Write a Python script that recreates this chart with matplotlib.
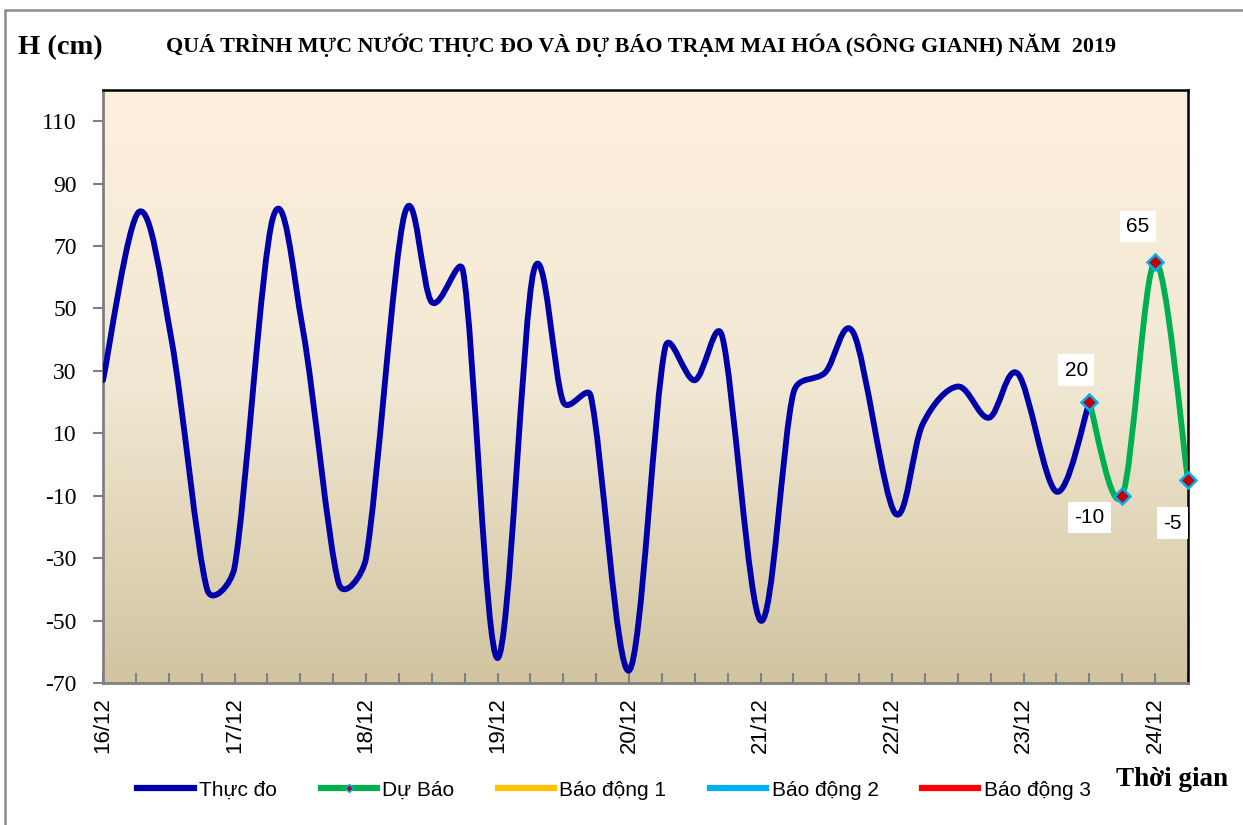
import numpy as np
import matplotlib
matplotlib.use("Agg")
import matplotlib.pyplot as plt
from matplotlib.path import Path
from matplotlib.patches import PathPatch, Rectangle
from matplotlib.lines import Line2D
from matplotlib.colors import LinearSegmentedColormap

# Số liệu thực đo: thời gian (giờ kể từ 00h 16/12) và mực nước (cm)
gio_thuc_do = [0, 6.6, 12.5, 19, 24, 31, 36.5, 43, 48, 55, 60, 65.7, 72, 78.6, 84, 89,
               96, 102.6, 108, 113, 120, 126, 131.8, 137, 144.5, 149.6, 156, 161.7,
               167, 174, 180]
h_thuc_do = [27, 81, 40, -40, -33, 79, 43, -38, -30, 80, 52, 62, -62, 62, 20, 22,
             -66, 37.5, 27, 41, -50, 23, 29.5, 42, -15.5, 13, 25, 15, 29, -8.7, 20]

# Dự báo
gio_du_bao = [180, 186, 192, 198]
h_du_bao = [20, -10, 65, -5]

ngay = ["16/12", "17/12", "18/12", "19/12", "20/12", "21/12", "22/12", "23/12", "24/12"]
y_ticks = [-70, -50, -30, -10, 10, 30, 50, 70, 90, 110]

XMAX, YMIN, YMAX = 198, -70, 120
# ti le pixel / don vi (de tinh duong cong tron giong Excel)
SX = 1085 / XMAX
SY = 593 / (YMAX - YMIN)


def duong_tron(x, y):
    # duong cong Bezier kieu "smoothed line" cua Excel (gioi han tiep tuyen <= 1/2 doan)
    pts = np.column_stack([np.array(x) * SX, np.array(y) * SY])
    n = len(pts)
    verts = [pts[0]]
    codes = [Path.MOVETO]
    for i in range(n - 1):
        p0 = pts[max(i - 1, 0)]
        p1 = pts[i]
        p2 = pts[i + 1]
        p3 = pts[min(i + 2, n - 1)]
        d12 = np.hypot(*(p2 - p1))
        t1 = (p2 - p0) / 6
        t2 = (p3 - p1) / 6
        if np.hypot(*t1) > d12 / 2:
            t1 = t1 * (d12 / 2) / np.hypot(*t1)
        if np.hypot(*t2) > d12 / 2:
            t2 = t2 * (d12 / 2) / np.hypot(*t2)
        verts += [p1 + t1, p2 - t2, p2]
        codes += [Path.CURVE4] * 3
    verts = np.array(verts) / [SX, SY]
    return Path(verts, codes)


fig = plt.figure(figsize=(12.43, 8.25), dpi=100)
ax = fig.add_axes([103 / 1243, 1 - 683 / 825, (1188 - 103) / 1243, (683 - 90) / 825])

# nen gradient
cmap = LinearSegmentedColormap.from_list("nen", [(0, "#D2C4A0"), (0.5, "#F1E8D3"), (1, "#FDF0DC")])
grad = np.linspace(0, 1, 256).reshape(-1, 1)
ax.imshow(grad, extent=[0, XMAX, YMIN, YMAX], origin="lower", aspect="auto", cmap=cmap, zorder=0)

ax.add_patch(PathPatch(duong_tron(gio_thuc_do, h_thuc_do), fill=False, edgecolor="#0000AA",
                       lw=4.2, capstyle="round", joinstyle="round", zorder=3))
ax.add_patch(PathPatch(duong_tron(gio_du_bao, h_du_bao), fill=False, edgecolor="#00B050",
                       lw=4.2, capstyle="round", joinstyle="round", zorder=4))
ax.plot(gio_du_bao, h_du_bao, ls="none", marker="D", ms=8, mfc="#C00000", mec="#00B0F0",
        mew=1.8, zorder=5, clip_on=False)

# nhan gia tri du bao
offsets = [(-13, 32), (-33, -22), (-17, 35), (-16, -43)]
for gx, hv, off in zip(gio_du_bao, h_du_bao, offsets):
    ax.annotate(f"{hv:g}", (gx, hv), xytext=off, textcoords="offset pixels",
                ha="center", va="center", fontsize=15, family="Liberation Sans",
                bbox=dict(boxstyle="square,pad=0.3", fc="white", ec="none"), zorder=6,
                annotation_clip=False)

ax.set_xlim(0, XMAX)
ax.set_ylim(YMIN, YMAX)
ax.set_xticks(np.arange(0, XMAX, 24))
ax.set_xticklabels(ngay, rotation=90, fontsize=16, family="Liberation Sans")
ax.set_xticks(np.arange(0, XMAX + 1, 6), minor=True)
ax.set_yticks(y_ticks)
ax.set_yticklabels([str(v) for v in y_ticks], fontsize=17, family="Liberation Serif")
ax.tick_params(axis="x", which="both", direction="in", length=7, color="#808080", width=1.5, pad=10)
ax.tick_params(axis="y", direction="out", length=7, color="#808080", width=1.5, pad=12)
for s in ["left", "bottom"]:
    ax.spines[s].set_color("#808080")
    ax.spines[s].set_linewidth(2)
for s in ["top", "right"]:
    ax.spines[s].set_color("black")
    ax.spines[s].set_linewidth(1.8)

fig.text(18 / 1243, 1 - 48 / 825, "H (cm)", fontsize=20.5, fontweight="bold",
         family="Liberation Serif", ha="left", va="center")
fig.text(641 / 1243, 1 - 45 / 825,
         "QUÁ TRÌNH MỰC NƯỚC THỰC ĐO VÀ DỰ BÁO TRẠM MAI HÓA (SÔNG GIANH) NĂM  2019",
         fontsize=15.8, fontweight="bold", family="Liberation Serif", ha="center", va="center")
fig.text(1228 / 1243, 1 - 780 / 825, "Thời gian", fontsize=19.5, fontweight="bold",
         family="Liberation Serif", ha="right", va="center")

handles = [
    Line2D([], [], color="#0000AA", lw=4.5),
    Line2D([], [], color="#00B050", lw=4.5, marker="D", ms=4, mfc="#C00000", mec="#00B0F0"),
    Line2D([], [], color="#FFC000", lw=4.5),
    Line2D([], [], color="#00B0F0", lw=4.5),
    Line2D([], [], color="#FF0000", lw=4.5),
]
labels = ["Thực đo", "Dự Báo", "Báo động 1", "Báo động 2", "Báo động 3"]
fig.legend(handles, labels, loc="center", bbox_to_anchor=(614 / 1243, 1 - 790 / 825),
           ncol=5, frameon=False, prop={"family": "Liberation Sans", "size": 15},
           handlelength=2.7, handletextpad=0.25, columnspacing=2.1)

fig.patches.append(Rectangle((5 / 1243, -0.01), 1.0, 1 - 10 / 825 + 0.01,
                             transform=fig.transFigure, fill=False, ec="#8C8C8C", lw=1.8))

fig.savefig("out.png", dpi=100)
